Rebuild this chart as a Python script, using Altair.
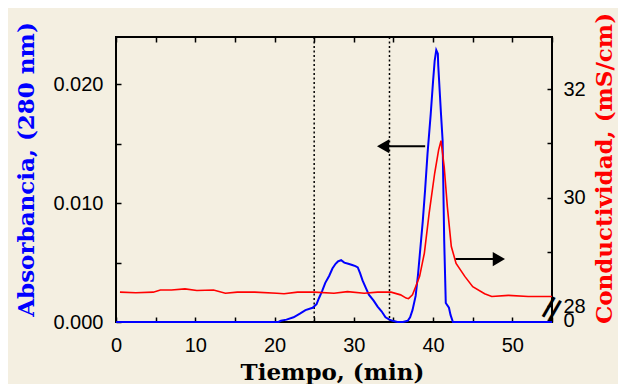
import altair as alt
import pandas as pd

# ---------------- data ----------------
abs_t = [0, 20.5, 20.8, 21.5, 22.4, 23.2, 23.9, 24.8, 25.3, 25.6, 26.0, 26.4, 26.9,
         27.3, 27.7, 28.0, 28.4, 28.8, 29.3, 29.8, 30.2, 30.5, 30.8, 31.1, 31.5,
         31.9, 32.5, 33.0, 33.5, 34.0, 34.5, 34.9, 35.5, 36.2, 36.8, 37.1, 37.4,
         37.8, 38.1, 38.5, 38.7, 39.0, 39.3, 39.7, 40.0, 40.2, 40.4, 40.6, 40.65,
         41.0, 41.2, 41.4, 41.6, 42.0, 42.2, 42.5, 55.0]
abs_v = [0, 0, 0.0001, 0.0002, 0.0004, 0.0007, 0.0010, 0.0012, 0.0015, 0.0020,
         0.0026, 0.0033, 0.0039, 0.0045, 0.0049, 0.0051, 0.0052, 0.0050, 0.0049,
         0.0048, 0.0047, 0.0046, 0.0041, 0.0035, 0.0029, 0.0023, 0.0018, 0.0013,
         0.0009, 0.0004, 0.0002, 0.0001, 0.0000, 0.0000, 0.0001, 0.0004, 0.0010,
         0.0022, 0.0040, 0.0070, 0.0085, 0.0112, 0.0142, 0.0175, 0.0203, 0.0220,
         0.0229, 0.0226, 0.0216, 0.0175, 0.0153, 0.0069, 0.0016, 0.0012, 0.0006,
         0.0, 0.0]

cond_t = [0.5, 2.5, 4.7, 5.6, 7.0, 8.7, 10.2, 12.3, 13.8, 15.3, 17.5, 20.3, 21.2,
          22.9, 25.0, 27.5, 29.2, 31.3, 33.0, 34.7, 35.9, 36.6, 36.9, 37.4, 37.8,
          38.3, 38.9, 39.5, 40.2, 40.7, 41.0, 41.4, 41.8, 42.3, 42.9, 44.0, 45.0,
          46.5, 47.4, 49.5, 52.0, 55.0]
cond_v = [28.26, 28.25, 28.26, 28.30, 28.30, 28.32, 28.29, 28.30, 28.24, 28.26,
          28.26, 28.24, 28.23, 28.26, 28.26, 28.24, 28.27, 28.24, 28.26, 28.26,
          28.21, 28.15, 28.14, 28.21, 28.36, 28.55, 28.98, 29.71, 30.45, 30.88,
          31.05, 30.57, 29.83, 29.10, 28.79, 28.55, 28.36, 28.23, 28.18, 28.20,
          28.18, 28.18]

fraction_limits = [25.0, 34.5]

arrow_start = [39.0, 42.8]
arrow_end = [34.0, 48.0]
arrow_tip = [33.7, 48.3]
arrow_y = [0.0148, 0.0053]
arrow_shape = ["triangle-left", "triangle-right"]

x_ticks = list(range(0, 56, 5))
abs_ticks = [0, 0.005, 0.010, 0.015, 0.020]
cond_ticks = [27.74, 28, 29, 30, 31, 32]
abs_domain = [0, 0.024]
cond_domain = [27.71, 32.96]
x_domain = [0, 55]

# ---------------- frames ----------------
df_abs = pd.DataFrame({"t": abs_t, "v": abs_v})
df_cond = pd.DataFrame({"t": cond_t, "v": cond_v})
df_vl = pd.DataFrame({"t": fraction_limits})
df_arrow = pd.DataFrame({"t": arrow_start, "t2": arrow_end, "tip": arrow_tip,
                         "v": arrow_y, "shape": arrow_shape})
df_break = pd.DataFrame({"t": [55.0], "v": [27.95], "txt": ["="]})

BG = "#F4EFE1"
LABEL_FONT = "Liberation Sans"
TITLE_FONT = "DejaVu Serif"

xscale = alt.Scale(domain=x_domain, nice=False, zero=False)
yscale_abs = alt.Scale(domain=abs_domain, nice=False, zero=False)
yscale_cond = alt.Scale(domain=cond_domain, nice=False, zero=False)

x_axis_bottom = alt.Axis(
    orient="bottom", values=x_ticks,
    labelExpr="datum.value % 10 == 0 ? format(datum.value, 'd') : ''",
    labelFlush=False, labelOverlap=False, tickSize=5, offset=-5, domain=False,
    grid=False, labelPadding=13, labelFontSize=20, labelFont=LABEL_FONT,
    labelColor="black", tickColor="black", tickWidth=1.5,
    title="Tiempo, (min)", titleX=216, titleY=62, titleBaseline="alphabetic",
    titleAlign="center", titleFont=TITLE_FONT, titleFontSize=23,
    titleFontWeight="bold", titleColor="black")

x_axis_top = alt.Axis(
    orient="top", values=x_ticks, labels=False, tickSize=5, offset=-5,
    domain=False, grid=False, tickColor="black", tickWidth=1.5, title=None)

y_axis_left = alt.Axis(
    orient="left", values=abs_ticks,
    labelExpr="round(datum.value * 1000) % 10 == 0 ? format(datum.value, '.3f') : ''",
    labelOverlap=False, tickSize=5, offset=-5, domain=False, grid=False,
    labelPadding=13, labelFontSize=20, labelFont=LABEL_FONT, labelColor="black",
    tickColor="black", tickWidth=1.5,
    title="Absorbancia, (280 nm)", titleAngle=270, titleX=-88, titleY=132,
    titleBaseline="alphabetic", titleAlign="center", titleFont=TITLE_FONT,
    titleFontSize=23, titleFontWeight="bold", titleColor="#0000FF")

y_axis_right = alt.Axis(
    orient="right", values=cond_ticks,
    labelExpr="datum.value < 27.9 ? '0' : (datum.value % 2 == 0 ? format(datum.value, 'd') : '')",
    labelOverlap=False, tickSize=5, offset=-5, domain=False, grid=False,
    labelPadding=11, labelFontSize=20, labelFont=LABEL_FONT, labelColor="black",
    tickColor="black", tickWidth=1.5,
    title="Conductividad, (mS/cm)", titleAngle=270, titleX=64, titleY=131,
    titleBaseline="alphabetic", titleAlign="center", titleFont=TITLE_FONT,
    titleFontSize=23, titleFontWeight="bold", titleColor="#FF0000")

X_B = alt.X("t:Q", scale=xscale, axis=x_axis_bottom)
Y_L = alt.Y("v:Q", scale=yscale_abs, axis=y_axis_left)
X_T = alt.X("t:Q", scale=xscale, axis=x_axis_top)
Y_R = alt.Y("v:Q", scale=yscale_cond, axis=y_axis_right)

blue_line = alt.Chart(df_abs).mark_line(color="#0000FF", strokeWidth=2, clip=False).encode(
    x=X_B, y=Y_L, order="t:Q")

vlines = alt.Chart(df_vl).mark_rule(color="black", strokeWidth=1.5, strokeDash=[2, 2.5]).encode(
    x=X_B)

arrow_lines = alt.Chart(df_arrow).mark_rule(color="black", strokeWidth=2).encode(
    x=X_B, x2="t2:Q", y=Y_L)

arrow_heads = alt.Chart(df_arrow).mark_point(filled=True, color="black", size=200, opacity=1).encode(
    x=alt.X("tip:Q", scale=xscale, axis=x_axis_bottom), y=Y_L,
    shape=alt.Shape("shape:N", scale=None))

blue_group = alt.layer(vlines, blue_line, arrow_lines, arrow_heads)

red_line = alt.Chart(df_cond).mark_line(color="#FF0000", strokeWidth=1.6, clip=False).encode(
    x=X_T, y=Y_R, order="t:Q")

break_mark = alt.Chart(df_break).mark_text(
    font="DejaVu Sans", fontSize=36, color="black", align="center", baseline="middle",
    angle=300).encode(x=X_T, y=Y_R, text="txt:N")

red_group = alt.layer(red_line, break_mark)

chart = alt.layer(blue_group, red_group).resolve_scale(
    y="independent").resolve_axis(x="independent", y="independent").properties(
    width=436, height=285,
    autosize=alt.AutoSizeParams(type="none"),
    padding={"left": 108, "top": 29, "right": 66, "bottom": 62},
    background=BG,
).configure_view(stroke="black", strokeWidth=2, fill=BG)

chart.save("out.html", embed_options={"renderer": "svg", "actions": False})
